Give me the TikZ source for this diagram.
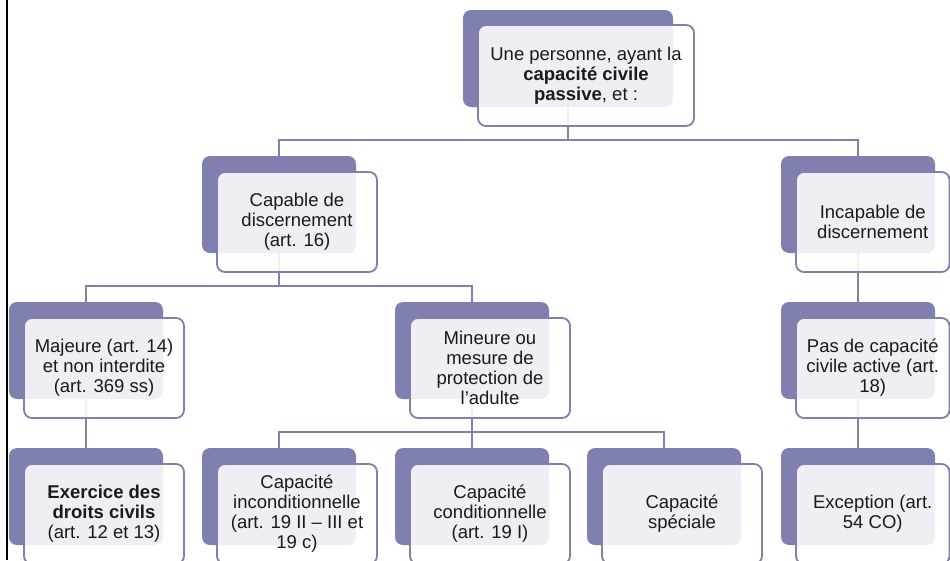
\documentclass[tikz,border=0pt]{standalone}
\usepackage{fontspec}
\setmainfont{Liberation Sans}
\newcommand\boxfont{\fontsize{18.5pt}{20pt}\selectfont}
\definecolor{smpurple}{RGB}{128,128,176}
\definecolor{boxtext}{RGB}{26,26,26}
\begin{document}
\begin{tikzpicture}[x=1pt,y=-1pt,
  backbox/.style={draw=none, fill=smpurple, rounded corners=8pt,
    minimum width=154pt, minimum height=97pt, inner sep=0pt, outer sep=0pt,
    anchor=north west},
  frontbox/.style={draw=smpurple, line width=1.8pt, fill=white,
    fill opacity=0.87, text opacity=1, rounded corners=8pt,
    minimum width=160pt, minimum height=100pt, inner sep=0pt, outer sep=0pt,
    anchor=north west, align=center, font=\boxfont, text=boxtext},
  edgebox/.style={frontbox, minimum width=153.5pt},
  link/.style={draw=smpurple, line width=1.8pt}]
\useasboundingbox (0,0) rectangle (950,560);
\clip (0,0) rectangle (950,560);
\fill[white] (0,0) rectangle (950,560);

% frame line on the left
\draw[line width=2.8pt, black] (7,0) -- (7,560);

% back plates
\node[backbox, minimum width=210pt] (topB) at (463,10) {};
\node[backbox] (capB)  at (202,156) {};
\node[backbox] (incB)  at (781,156) {};
\node[backbox] (majB)  at (9,302) {};
\node[backbox] (minB)  at (395,302) {};
\node[backbox] (pasB)  at (781,302) {};
\node[backbox] (exeB)  at (9,448) {};
\node[backbox] (incoB) at (202,448) {};
\node[backbox] (condB) at (395,448) {};
\node[backbox] (speB)  at (587,448) {};
\node[backbox] (excB)  at (781,448) {};

% bus levels
\coordinate (bus1) at (0,140);
\coordinate (bus2) at (0,286);
\coordinate (bus3) at (0,432);

% connectors
\draw[link] (topB.south) -- (topB.south |- bus1);
\draw[link] (capB.north) -- (capB.north |- bus1) -- (incB.north |- bus1) -- (incB.north);
\draw[link] (capB.south) -- (capB.south |- bus2);
\draw[link] (majB.north) -- (majB.north |- bus2) -- (minB.north |- bus2) -- (minB.north);
\draw[link] (incB.south) -- (pasB.north);
\draw[link] (majB.south) -- (exeB.north);
\draw[link] (minB.south) -- (minB.south |- bus3);
\draw[link] (incoB.north) -- (incoB.north |- bus3) -- (speB.north |- bus3) -- (speB.north);
\draw[link] (condB.north) -- (condB.north |- bus3);
\draw[link] (pasB.south) -- (excB.north);

% front cards with text
\node[frontbox, minimum width=216pt, minimum height=101pt] (topF) at ([shift={(15,15)}]topB.north west)
  {Une personne, ayant la\\\textbf{capacité civile}\\\textbf{passive}, et :};
\node[frontbox] (capF) at ([shift={(15,16)}]capB.north west)
  {Capable de\\discernement\\(art. 16)};
\node[edgebox] (incF) at ([shift={(15,16)}]incB.north west)
  {Incapable de\\discernement};
\node[frontbox] (majF) at ([shift={(15,16)}]majB.north west)
  {Majeure (art. 14)\\et non interdite\\(art. 369 ss)};
\node[frontbox] (minF) at ([shift={(15,16)}]minB.north west)
  {Mineure ou\\mesure de\\protection de\\l’adulte};
\node[edgebox] (pasF) at ([shift={(15,16)}]pasB.north west)
  {Pas de capacité\\civile active (art.\\18)};
\node[frontbox] (exeF) at ([shift={(15,16)}]exeB.north west)
  {\textbf{Exercice des}\\\textbf{droits civils}\\(art. 12 et 13)};
\node[frontbox] (incoF) at ([shift={(15,16)}]incoB.north west)
  {Capacité\\inconditionnelle\\(art. 19 II – III et\\19 c)};
\node[frontbox] (condF) at ([shift={(15,16)}]condB.north west)
  {Capacité\\conditionnelle\\(art. 19 I)};
\node[frontbox] (speF) at ([shift={(15,16)}]speB.north west)
  {Capacité\\spéciale};
\node[edgebox] (excF) at ([shift={(15,16)}]excB.north west)
  {Exception (art.\\54 CO)};
\end{tikzpicture}
\end{document}
